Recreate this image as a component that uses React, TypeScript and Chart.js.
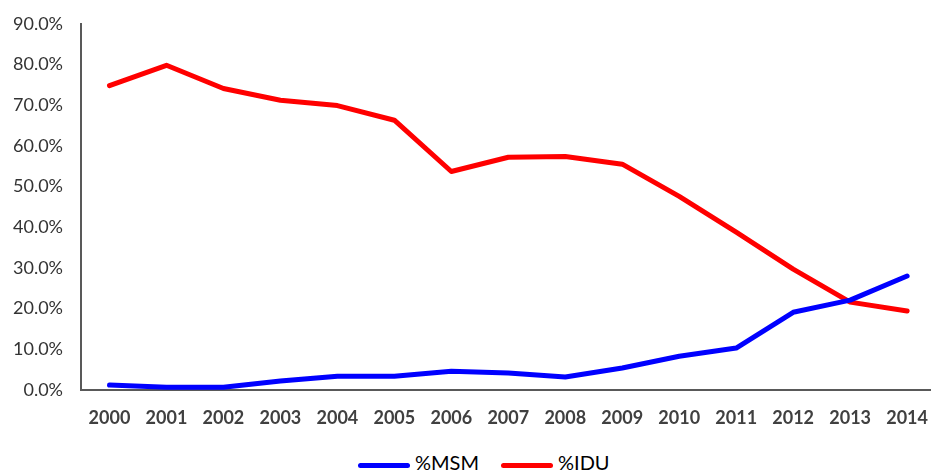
import React, { useEffect, useRef } from "react";
import { Chart, registerables } from "chart.js";

Chart.register(...registerables);

const years = ["2000","2001","2002","2003","2004","2005","2006","2007","2008","2009","2010","2011","2012","2013","2014"];
const msm = [1.2, 0.7, 0.7, 2.2, 3.4, 3.4, 4.6, 4.2, 3.2, 5.4, 8.3, 10.3, 19.1, 22.1, 28.0];
const idu = [74.8, 79.8, 74.1, 71.2, 69.9, 66.3, 53.7, 57.2, 57.4, 55.5, 47.6, 38.8, 29.7, 21.6, 19.4];
const yTickValues = [0, 10, 20, 30, 40, 50, 60, 70, 80, 90];
const seriesNames = ["%MSM", "%IDU"];
const seriesColors = ["#0000ff", "#ff0000"];

export default function App() {
  const ref = useRef<HTMLCanvasElement>(null);
  useEffect(() => {
    if (!ref.current) return;
    const chart = new Chart(ref.current, {
      type: "line",
      data: {
        labels: years,
        datasets: [msm, idu].map((d, i) => ({
          label: seriesNames[i],
          data: d,
          borderColor: seriesColors[i],
          backgroundColor: seriesColors[i],
          borderWidth: 5,
          pointRadius: 0,
          tension: 0,
          borderCapStyle: "round" as const,
          borderJoinStyle: "round" as const,
        })),
      },
      options: {
        animation: false,
        responsive: false,
        layout: { padding: { top: 10, right: 0, left: 0, bottom: 0 } },
        plugins: {
          tooltip: { enabled: false },
          legend: { display: false },
        },
        scales: {
          x: {
            offset: true,
            grid: { display: false, drawTicks: false },
            border: { display: true, color: "#595959", width: 2 },
            ticks: { color: "#404040", font: { family: "Lato", size: 18, weight: "bold" }, padding: 17, maxRotation: 0, autoSkip: false },
            afterFit: (s: any) => { s.height = 50; },
          },
          y: {
            min: 0,
            max: 90,
            grid: { display: false, drawTicks: false },
            border: { display: true, color: "#595959", width: 2 },
            afterBuildTicks: (s: any) => { s.ticks = yTickValues.map((v) => ({ value: v })); },
            ticks: {
              color: "#333333",
              font: { family: "Lato", size: 18 },
              padding: 18,
              callback: (v: any) => Number(v).toFixed(1) + "%",
            },
            afterFit: (s: any) => { s.width = 81; },
          },
        },
      },
    });
    return () => chart.destroy();
  }, []);
  return (
    <div style={{ position: "fixed", left: 0, top: 0, width: 931, height: 473, background: "#fff", overflow: "hidden" }}>
      <canvas ref={ref} width={945} height={445} style={{ display: "block", position: "absolute", left: 0, top: -5 }} />
      <div style={{ position: "absolute", left: 358, top: 450, display: "flex", alignItems: "center", fontFamily: "Lato", fontSize: 20, lineHeight: "24px", color: "#000" }}>
        {seriesNames.map((n, i) => (
          <div key={n} style={{ display: "flex", alignItems: "center", marginRight: i === 0 ? 22 : 0 }}>
            <span style={{ display: "inline-block", width: 52, height: 5, borderRadius: 3, background: seriesColors[i], marginRight: 5, position: "relative", top: 3 }} />
            <span>{n}</span>
          </div>
        ))}
      </div>
    </div>
  );
}
